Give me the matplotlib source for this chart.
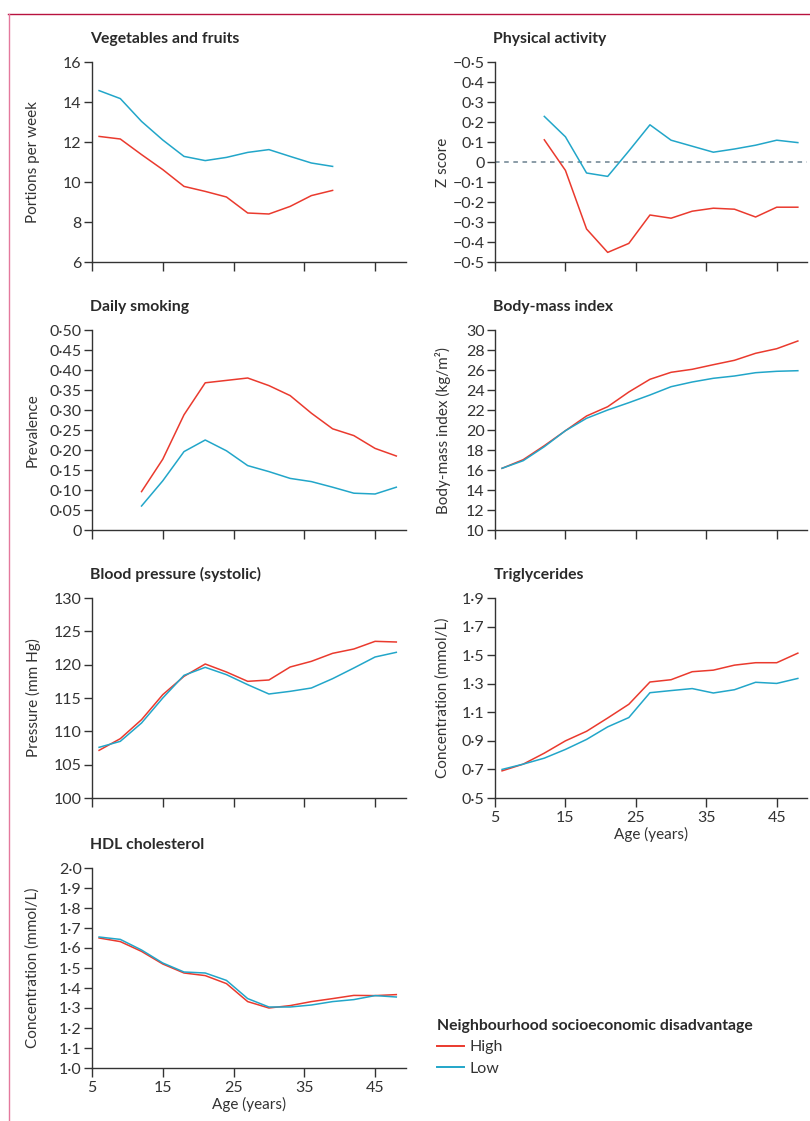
import numpy as np
import matplotlib
matplotlib.use("Agg")
import matplotlib.pyplot as plt
from matplotlib.lines import Line2D

plt.rcParams['font.family'] = ['Lato', 'DejaVu Sans']

RED = '#ea3a2e'
BLUE = '#22a6c9'

# ages (years)
ages_6_39 = [6, 9, 12, 15, 18, 21, 24, 27, 30, 33, 36, 39]
ages_6_48 = [6, 9, 12, 15, 18, 21, 24, 27, 30, 33, 36, 39, 42, 45, 48]
ages_12_48 = [12, 15, 18, 21, 24, 27, 30, 33, 36, 39, 42, 45, 48]

# vegetables and fruits (portions per week)
veg_high = [12.28, 12.15, 11.37, 10.62, 9.78, 9.53, 9.25, 8.45, 8.40, 8.78, 9.32, 9.58]
veg_low = [14.57, 14.17, 13.03, 12.10, 11.28, 11.07, 11.23, 11.48, 11.62, 11.28, 10.95, 10.78]

# physical activity (z score)
pa_high = [0.111, -0.042, -0.335, -0.452, -0.407, -0.265, -0.281, -0.246, -0.231, -0.236, -0.275, -0.226, -0.226]
pa_low = [0.228, 0.126, -0.055, -0.072, 0.055, 0.186, 0.109, 0.079, 0.049, 0.065, 0.084, 0.109, 0.097]

# daily smoking (prevalence)
smk_high = [0.096, 0.177, 0.288, 0.368, 0.374, 0.380, 0.361, 0.336, 0.292, 0.253, 0.236, 0.204, 0.185]
smk_low = [0.060, 0.123, 0.196, 0.225, 0.198, 0.161, 0.146, 0.129, 0.121, 0.107, 0.092, 0.090, 0.107]

# body-mass index
bmi_high = [16.17, 17.03, 18.43, 19.93, 21.40, 22.33, 23.80, 25.07, 25.77, 26.07, 26.53, 26.97, 27.67, 28.13, 28.90]
bmi_low = [16.17, 16.93, 18.33, 19.93, 21.17, 22.00, 22.73, 23.50, 24.33, 24.80, 25.17, 25.40, 25.73, 25.87, 25.93]

# systolic blood pressure
bp_high = [107.15, 108.9, 111.75, 115.5, 118.25, 120.1, 118.9, 117.5, 117.7, 119.65, 120.5, 121.7, 122.35, 123.5, 123.4]
bp_low = [107.6, 108.5, 111.25, 115.0, 118.4, 119.6, 118.5, 117.0, 115.6, 116.0, 116.5, 117.9, 119.5, 121.15, 121.85]

# triglycerides
tg_high = [0.690, 0.737, 0.814, 0.900, 0.967, 1.060, 1.156, 1.312, 1.328, 1.384, 1.395, 1.430, 1.447, 1.447, 1.514]
tg_low = [0.700, 0.737, 0.779, 0.840, 0.910, 0.998, 1.063, 1.237, 1.252, 1.266, 1.235, 1.258, 1.310, 1.302, 1.337]

# HDL cholesterol
hdl_high = [1.650, 1.632, 1.583, 1.520, 1.475, 1.462, 1.422, 1.332, 1.300, 1.312, 1.332, 1.347, 1.363, 1.362, 1.367]
hdl_low = [1.655, 1.643, 1.590, 1.525, 1.480, 1.475, 1.438, 1.347, 1.305, 1.305, 1.315, 1.332, 1.342, 1.362, 1.355]

x_ticks = [5, 15, 25, 35, 45]


def dot(v, nd):
    s = f"{v:.{nd}f}".replace('.', '\u00b7')
    if s.startswith('-'):
        s = '\u2212' + s[1:]
    return s


W, H = 810, 1121
fig = plt.figure(figsize=(W / 100, H / 100), dpi=100)

# frame
fig.add_artist(Line2D([8 / W, 1], [1 - 14 / H, 1 - 14 / H], color='#b8123f', lw=1.0))
fig.add_artist(Line2D([8.5 / W, 8.5 / W], [0, 1 - 14 / H], color='#e4799d', lw=1.0))

col_left = {0: 92, 1: 495}
col_right = {0: 405.5, 1: 807}
row_bottom = [262, 530, 798, 1068]


def make_ax(row, col):
    l = col_left[col]
    r = col_right[col]
    b = row_bottom[row]
    ax = fig.add_axes([l / W, 1 - b / H, (r - l) / W, 200 / H])
    for s in ['top', 'right']:
        ax.spines[s].set_visible(False)
    for s in ['left', 'bottom']:
        ax.spines[s].set_linewidth(1.0)
        ax.spines[s].set_color('#333333')
    ax.set_xlim(5, 49.3)
    ax.set_xticks(x_ticks)
    ax.tick_params(axis='x', length=6.5, width=1.0, color='#333333', labelsize=11.5,
                   labelcolor='#333333', pad=3)
    ax.tick_params(axis='y', length=5.5, width=1.0, color='#333333', labelsize=11.5,
                   labelcolor='#333333', pad=2)
    lab_x = 33 if col == 0 else 443
    ax.yaxis.set_label_coords((lab_x - l) / (r - l), 0.5)
    return ax


def title(ax, text):
    ax.text(-0.005, 1.095, text, transform=ax.transAxes, ha='left', va='baseline',
            fontsize=11.3, fontweight='bold', color='#2a2a2a')


def ylab(ax, text):
    ax.set_ylabel(text, fontsize=11, color='#333333')
    ax.yaxis.label.set_verticalalignment('center')


# Vegetables and fruits
ax = make_ax(0, 0)
ax.plot(ages_6_39, veg_high, color=RED, lw=1.1)
ax.plot(ages_6_39, veg_low, color=BLUE, lw=1.1)
ax.set_ylim(6, 16)
ax.set_yticks([6, 8, 10, 12, 14, 16])
ax.set_xticklabels([])
title(ax, 'Vegetables and fruits')
ylab(ax, 'Portions per week')

# Physical activity
ax = make_ax(0, 1)
ax.axhline(0, color='#6b8190', lw=1.1, ls=(0, (3, 3)))
ax.plot(ages_12_48, pa_high, color=RED, lw=1.1)
ax.plot(ages_12_48, pa_low, color=BLUE, lw=1.1)
ax.set_ylim(-0.5, 0.5)
pa_ticks = np.round(np.arange(-0.5, 0.51, 0.1), 1)
ax.set_yticks(pa_ticks)
pa_labels = ['0' if abs(v) < 1e-9 else dot(v, 1) for v in pa_ticks]
pa_labels[-1] = '\u22120\u00b75'
ax.set_yticklabels(pa_labels)
ax.set_xticklabels([])
title(ax, 'Physical activity')
ylab(ax, 'Z score')

# Daily smoking
ax = make_ax(1, 0)
ax.plot(ages_12_48, smk_high, color=RED, lw=1.1)
ax.plot(ages_12_48, smk_low, color=BLUE, lw=1.1)
ax.set_ylim(0, 0.5)
smk_ticks = np.round(np.arange(0, 0.51, 0.05), 2)
ax.set_yticks(smk_ticks)
ax.set_yticklabels(['0' if v == 0 else dot(v, 2) for v in smk_ticks])
ax.set_xticklabels([])
title(ax, 'Daily smoking')
ylab(ax, 'Prevalence')

# Body-mass index
ax = make_ax(1, 1)
ax.plot(ages_6_48, bmi_high, color=RED, lw=1.1)
ax.plot(ages_6_48, bmi_low, color=BLUE, lw=1.1)
ax.set_ylim(10, 30)
ax.set_yticks(range(10, 31, 2))
ax.set_xticklabels([])
title(ax, 'Body-mass index')
ylab(ax, 'Body-mass index (kg/m\u00b2)')

# Blood pressure
ax = make_ax(2, 0)
ax.plot(ages_6_48, bp_high, color=RED, lw=1.1)
ax.plot(ages_6_48, bp_low, color=BLUE, lw=1.1)
ax.set_ylim(100, 130)
ax.set_yticks(range(100, 131, 5))
ax.set_xticklabels([])
title(ax, 'Blood pressure (systolic)')
ylab(ax, 'Pressure (mm Hg)')

# Triglycerides
ax = make_ax(2, 1)
ax.plot(ages_6_48, tg_high, color=RED, lw=1.1)
ax.plot(ages_6_48, tg_low, color=BLUE, lw=1.1)
ax.set_ylim(0.5, 1.9)
tg_ticks = np.round(np.arange(0.5, 1.91, 0.2), 1)
ax.set_yticks(tg_ticks)
ax.set_yticklabels([dot(v, 1) for v in tg_ticks])
title(ax, 'Triglycerides')
ylab(ax, 'Concentration (mmol/L)')
ax.set_xlabel('Age (years)', fontsize=11, color='#333333', labelpad=1)

# HDL cholesterol
ax = make_ax(3, 0)
ax.plot(ages_6_48, hdl_high, color=RED, lw=1.1)
ax.plot(ages_6_48, hdl_low, color=BLUE, lw=1.1)
ax.set_ylim(1.0, 2.0)
hdl_ticks = np.round(np.arange(1.0, 2.01, 0.1), 1)
ax.set_yticks(hdl_ticks)
ax.set_yticklabels([dot(v, 1) for v in hdl_ticks])
title(ax, 'HDL cholesterol')
ylab(ax, 'Concentration (mmol/L)')
ax.set_xlabel('Age (years)', fontsize=11, color='#333333', labelpad=1)

# legend
handles = [Line2D([], [], color=RED, lw=1.4), Line2D([], [], color=BLUE, lw=1.4)]
leg = fig.legend(handles, ['High', 'Low'], loc='upper left',
                 bbox_to_anchor=(437 / W, 1 - 1019 / H), frameon=False,
                 title='Neighbourhood socioeconomic disadvantage',
                 title_fontproperties={'weight': 'bold', 'size': 11.3},
                 alignment='left', fontsize=11.5, handlelength=1.7, handletextpad=0.33,
                 labelspacing=0.45, borderpad=0, borderaxespad=0)
leg.get_title().set_color('#2a2a2a')
for t in leg.get_texts():
    t.set_color('#333333')

fig.savefig('out.png', dpi=100)
